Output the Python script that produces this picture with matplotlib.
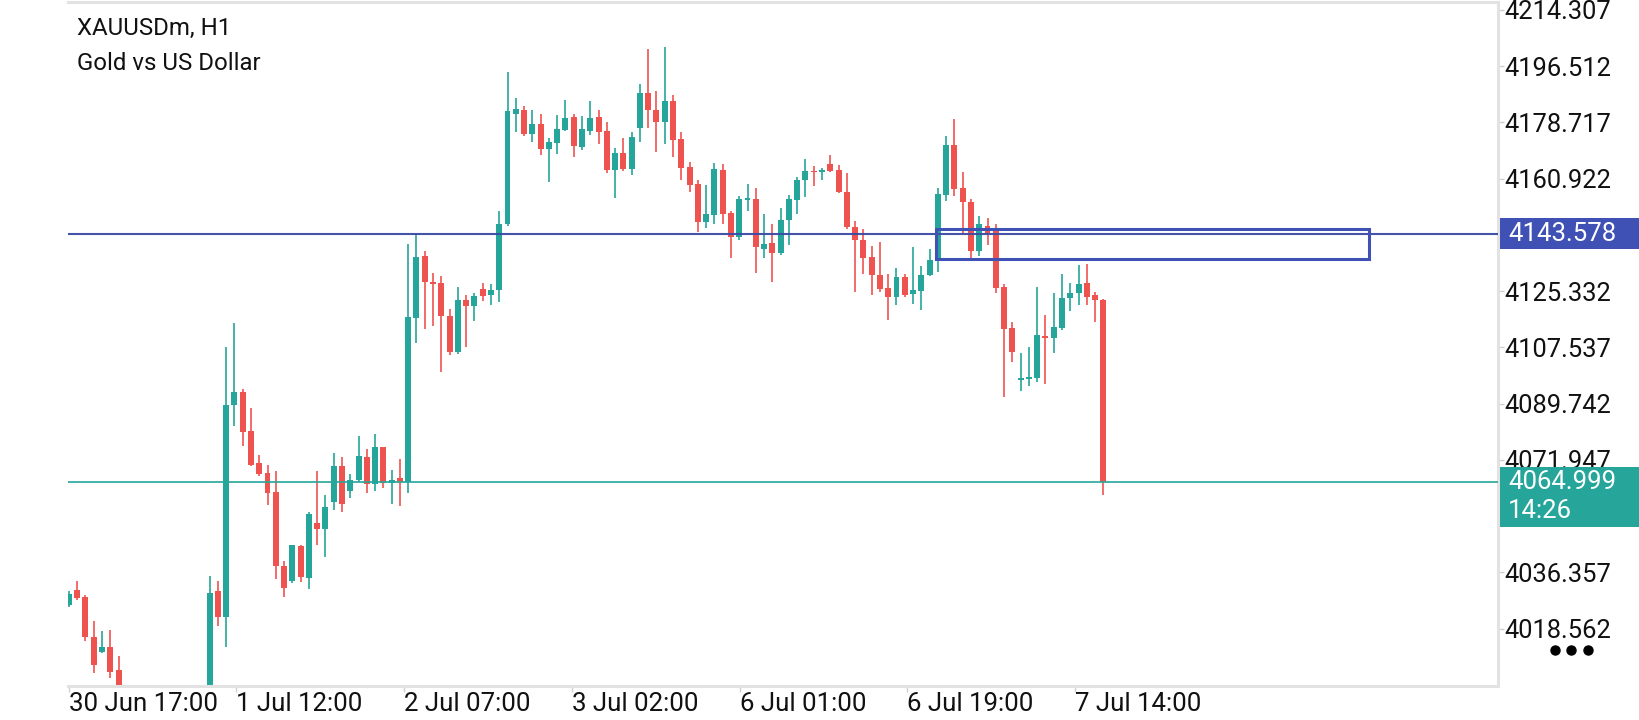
import matplotlib
matplotlib.use("Agg")
import matplotlib.pyplot as plt
from matplotlib.patches import Rectangle
from matplotlib.lines import Line2D
import matplotlib.transforms as mtransforms
import numpy as np

plt.rcParams['font.family'] = ['Roboto', 'DejaVu Sans']

# XAUUSDm H1 candles (open, high, low, close)
opens = [4026.0, 4030.7, 4028.6, 4015.9, 4011.3, 4012.9, 4005.5, 3996.0, 3990.5, 3987.0,
         3991.5, 3988.5, 3983.0, 3987.5, 3992.0, 3990.0, 3993.5, 3991.0, 4030.4, 4022.2,
         4089.2, 4093.4, 4081.0, 4070.9, 4067.7, 4061.7, 4038.4, 4033.8, 4044.6, 4034.7,
         4051.9, 4050.1, 4058.5, 4070.0, 4062.0, 4065.7, 4072.8, 4064.2, 4076.0, 4064.7,
         4066.3, 4065.0, 4117.0, 4136.5, 4128.1, 4128.0, 4117.5, 4106.0, 4122.6, 4120.8,
         4126.1, 4124.1, 4125.7, 4146.6, 4181.5, 4182.8, 4175.2, 4178.3, 4170.4, 4172.3,
         4176.4, 4180.5, 4171.0, 4176.1, 4180.5, 4176.1, 4163.7, 4169.2, 4164.1, 4177.1,
         4187.9, 4182.8, 4178.7, 4185.6, 4173.6, 4164.7, 4159.3, 4147.3, 4149.5, 4163.8,
         4150.1, 4142.5, 4154.3, 4154.6, 4138.8, 4140.6, 4137.5, 4147.7, 4154.3, 4160.4,
         4163.3, 4162.9, 4165.7, 4163.8, 4156.8, 4145.6, 4141.4, 4136.0, 4130.6, 4126.5,
         4123.6, 4129.9, 4124.3, 4125.4, 4130.6, 4135.4, 4155.8, 4171.7, 4158.1, 4153.4,
         4138.2, 4145.8, 4144.5, 4126.7, 4113.7, 4097.3, 4097.6, 4097.9, 4111.2, 4110.6,
         4113.8, 4123.1, 4124.9, 4128.0, 4124.0, 4122.5]
highs = [4030.5, 4033.8, 4029.3, 4020.9, 4018.0, 4018.3, 4009.9, 3998.5, 3995.0, 3993.0,
         3996.0, 3992.0, 3989.5, 3994.5, 3997.0, 3995.5, 3997.5, 4035.4, 4033.8, 4107.7,
         4115.3, 4094.4, 4088.5, 4073.5, 4070.3, 4068.4, 4039.9, 4045.2, 4044.9, 4055.5,
         4068.4, 4060.8, 4074.0, 4073.0, 4067.4, 4079.5, 4075.4, 4080.1, 4076.2, 4068.7,
         4072.2, 4140.3, 4143.4, 4138.1, 4131.2, 4130.0, 4119.8, 4126.7, 4124.1, 4124.7,
         4127.8, 4127.5, 4150.8, 4194.8, 4186.3, 4184.0, 4182.5, 4181.5, 4173.9, 4181.2,
         4185.9, 4181.5, 4180.9, 4185.6, 4182.8, 4178.7, 4170.7, 4173.9, 4175.8, 4191.0,
         4201.8, 4188.5, 4202.7, 4187.5, 4175.8, 4166.3, 4160.6, 4159.0, 4166.0, 4165.7,
         4150.8, 4155.5, 4159.3, 4158.1, 4149.8, 4146.7, 4151.7, 4155.8, 4161.4, 4167.2,
         4165.0, 4164.4, 4168.3, 4165.3, 4162.6, 4147.6, 4144.9, 4139.7, 4141.0, 4130.8,
         4132.6, 4130.8, 4139.2, 4133.3, 4138.8, 4158.0, 4174.5, 4179.9, 4162.9, 4154.5,
         4149.0, 4148.5, 4146.5, 4127.6, 4115.6, 4105.8, 4107.7, 4126.7, 4117.8, 4124.9,
         4130.8, 4128.0, 4133.5, 4134.0, 4125.0, 4123.0]
lows = [4025.5, 4027.8, 4014.6, 4004.5, 4010.9, 4003.0, 3994.0, 3988.0, 3984.0, 3982.5,
        3986.0, 3980.0, 3979.0, 3985.0, 3988.5, 3986.5, 3989.0, 3989.5, 4019.4, 4012.7,
        4082.7, 4076.4, 4070.0, 4067.0, 4057.7, 4034.3, 4028.7, 4033.0, 4033.3, 4031.0,
        4045.2, 4041.2, 4056.0, 4055.5, 4060.0, 4065.0, 4061.5, 4062.0, 4063.0, 4058.0,
        4057.5, 4061.5, 4109.0, 4113.5, 4114.3, 4099.9, 4105.1, 4105.4, 4107.8, 4116.0,
        4122.3, 4121.0, 4122.0, 4145.8, 4175.8, 4174.5, 4172.6, 4168.5, 4159.9, 4168.8,
        4175.9, 4167.9, 4170.0, 4174.8, 4172.0, 4162.8, 4154.9, 4163.5, 4162.2, 4172.6,
        4176.8, 4169.5, 4172.0, 4167.9, 4160.6, 4156.8, 4144.1, 4145.4, 4146.7, 4146.7,
        4135.9, 4141.6, 4150.8, 4131.2, 4135.9, 4128.1, 4136.9, 4140.1, 4149.9, 4155.0,
        4158.5, 4160.4, 4163.0, 4156.3, 4144.9, 4125.2, 4130.9, 4124.0, 4125.2, 4116.2,
        4121.1, 4123.6, 4121.3, 4119.4, 4130.0, 4131.4, 4154.0, 4155.6, 4143.7, 4135.8,
        4136.5, 4140.0, 4124.9, 4091.9, 4103.0, 4093.8, 4095.4, 4096.7, 4096.0, 4105.9,
        4113.1, 4119.0, 4121.0, 4121.0, 4115.5, 4061.0]
closes = [4029.5, 4028.3, 4015.9, 4007.0, 4012.9, 4005.0, 3996.0, 3990.5, 3987.0, 3991.5,
          3988.5, 3983.0, 3987.5, 3992.0, 3990.0, 3993.5, 3991.0, 4030.0, 4022.2, 4089.3,
          4093.4, 4080.8, 4070.4, 4067.4, 4061.5, 4038.4, 4031.5, 4044.9, 4034.9, 4055.0,
          4050.1, 4057.0, 4070.0, 4058.0, 4065.7, 4073.2, 4064.5, 4076.0, 4064.8, 4065.7,
          4065.0, 4117.3, 4136.3, 4128.1, 4127.7, 4117.6, 4106.2, 4122.6, 4120.8, 4123.8,
          4123.9, 4125.7, 4146.6, 4182.2, 4183.1, 4175.2, 4178.3, 4170.4, 4172.6, 4176.7,
          4180.2, 4171.4, 4176.7, 4180.2, 4175.8, 4163.7, 4169.2, 4164.1, 4174.2, 4187.9,
          4182.5, 4178.7, 4185.6, 4173.3, 4164.4, 4159.0, 4147.3, 4149.8, 4164.1, 4149.8,
          4142.5, 4154.6, 4154.6, 4139.2, 4140.3, 4137.3, 4147.9, 4154.6, 4160.6, 4163.4,
          4162.9, 4163.8, 4163.2, 4156.6, 4145.5, 4141.4, 4135.9, 4130.6, 4126.1, 4123.6,
          4129.9, 4124.2, 4125.7, 4130.6, 4135.2, 4156.2, 4171.7, 4157.7, 4153.4, 4138.2,
          4146.5, 4143.8, 4126.5, 4113.5, 4106.2, 4097.9, 4098.3, 4111.5, 4110.6, 4114.0,
          4123.2, 4124.9, 4127.5, 4123.5, 4122.5, 4064.999]

time_labels = ["30 Jun 17:00", "1 Jul 12:00", "2 Jul 07:00", "3 Jul 02:00",
               "6 Jul 01:00", "6 Jul 19:00", "7 Jul 14:00"]
time_label_bars = [0, 20.25, 40.5, 60.8, 81.05, 101.3, 121.6]

price_ticks = [4214.307, 4196.512, 4178.717, 4160.922, 4125.332,
               4107.537, 4089.742, 4071.947, 4036.357, 4018.562]

level_price = 4143.578          # blue horizontal level
bid_price = 4064.999            # current price line
countdown = "14:26"
zone_bars = [104.75, 157.1]     # rectangle start / end (bar units)
zone_prices = [4135.5, 4145.0]  # rectangle bottom / top

GREEN = '#26a69a'
RED = '#ef5350'
BLUE = '#3f51b5'
FRAME = '#e2e2e2'

o = np.array(opens)
h = np.array(highs)
l = np.array(lows)
c = np.array(closes)
x = np.arange(len(o))
up = c >= o
cols = np.where(up, GREEN, RED)

fig = plt.figure(figsize=(16.4, 7.2), dpi=100)
ax = fig.add_axes([0.0415, 0.0472, 0.872, 0.95])

# wicks and bodies
ax.vlines(x, l, h, colors=cols, linewidth=1.2, zorder=2)
body_bottom = np.minimum(o, c)
body_h = np.maximum(np.abs(c - o), 0.4)
ax.bar(x, body_h, bottom=body_bottom, width=0.72, color=cols, linewidth=0, zorder=2)

# levels
ax.axhline(level_price, color='#3a4aa6', linewidth=1.5, zorder=3, alpha=0.95)
ax.axhline(bid_price, color=GREEN, linewidth=1.2, zorder=3)
ax.add_patch(Rectangle((zone_bars[0], zone_prices[0]), zone_bars[1] - zone_bars[0],
                       zone_prices[1] - zone_prices[0], fill=False,
                       edgecolor=BLUE, linewidth=2.2, zorder=4))

ax.set_xlim(-0.1, 172.7)
ax.set_ylim(4000.45, 4216.8)

# axes / frame
for side in ['top', 'right', 'bottom']:
    ax.spines[side].set_color(FRAME)
    ax.spines[side].set_linewidth(2.2)
ax.spines['left'].set_visible(False)

ax.yaxis.tick_right()
ax.set_yticks(price_ticks)
ax.set_yticklabels([f"{v:.3f}" for v in price_ticks])
ax.tick_params(axis='y', direction='out', length=4, width=1, color='#d0d0d0',
               pad=0.5, labelsize=18.4, labelcolor='#111111')
ax.set_xticks(time_label_bars)
ax.set_xticklabels(time_labels)
for lbl in ax.get_xticklabels():
    lbl.set_horizontalalignment('left')
ax.tick_params(axis='x', direction='out', length=4, width=1, color='#d0d0d0',
               pad=0, labelsize=18.6, labelcolor='#111111')

# price labels on the right scale
trans = mtransforms.blended_transform_factory(ax.transAxes, ax.transData)
ax.add_patch(Rectangle((1.0015, level_price - 4.9), 0.12, 9.8, transform=trans,
                       facecolor=BLUE, edgecolor='none', clip_on=False, zorder=5))
ax.text(1.007, level_price, f"{level_price:.3f}", transform=trans, color='white',
        fontsize=18.5, va='center', ha='left', clip_on=False, zorder=6)
ax.add_patch(Rectangle((1.0015, bid_price - 14.2), 0.12, 18.8, transform=trans,
                       facecolor=GREEN, edgecolor='none', clip_on=False, zorder=5))
ax.text(1.007, bid_price, f"{bid_price:.3f}", transform=trans, color='white',
        fontsize=18.5, va='center', ha='left', clip_on=False, zorder=6)
ax.text(1.007, bid_price - 9.2, countdown, transform=trans, color='white',
        fontsize=18.5, va='center', ha='left', clip_on=False, zorder=6)

# title
fig.text(0.047, 0.951, "XAUUSDm, H1", fontsize=17.3, color='#111111', va='baseline')
fig.text(0.047, 0.9028, "Gold vs US Dollar", fontsize=17.3, color='#111111', va='baseline')

# menu dots
fig.add_artist(Line2D([0.948, 0.958, 0.968], [0.097, 0.097, 0.097],
                      transform=fig.transFigure, linestyle='none', marker='o',
                      markersize=6.5, color='black'))

fig.savefig("out.png", dpi=100)
